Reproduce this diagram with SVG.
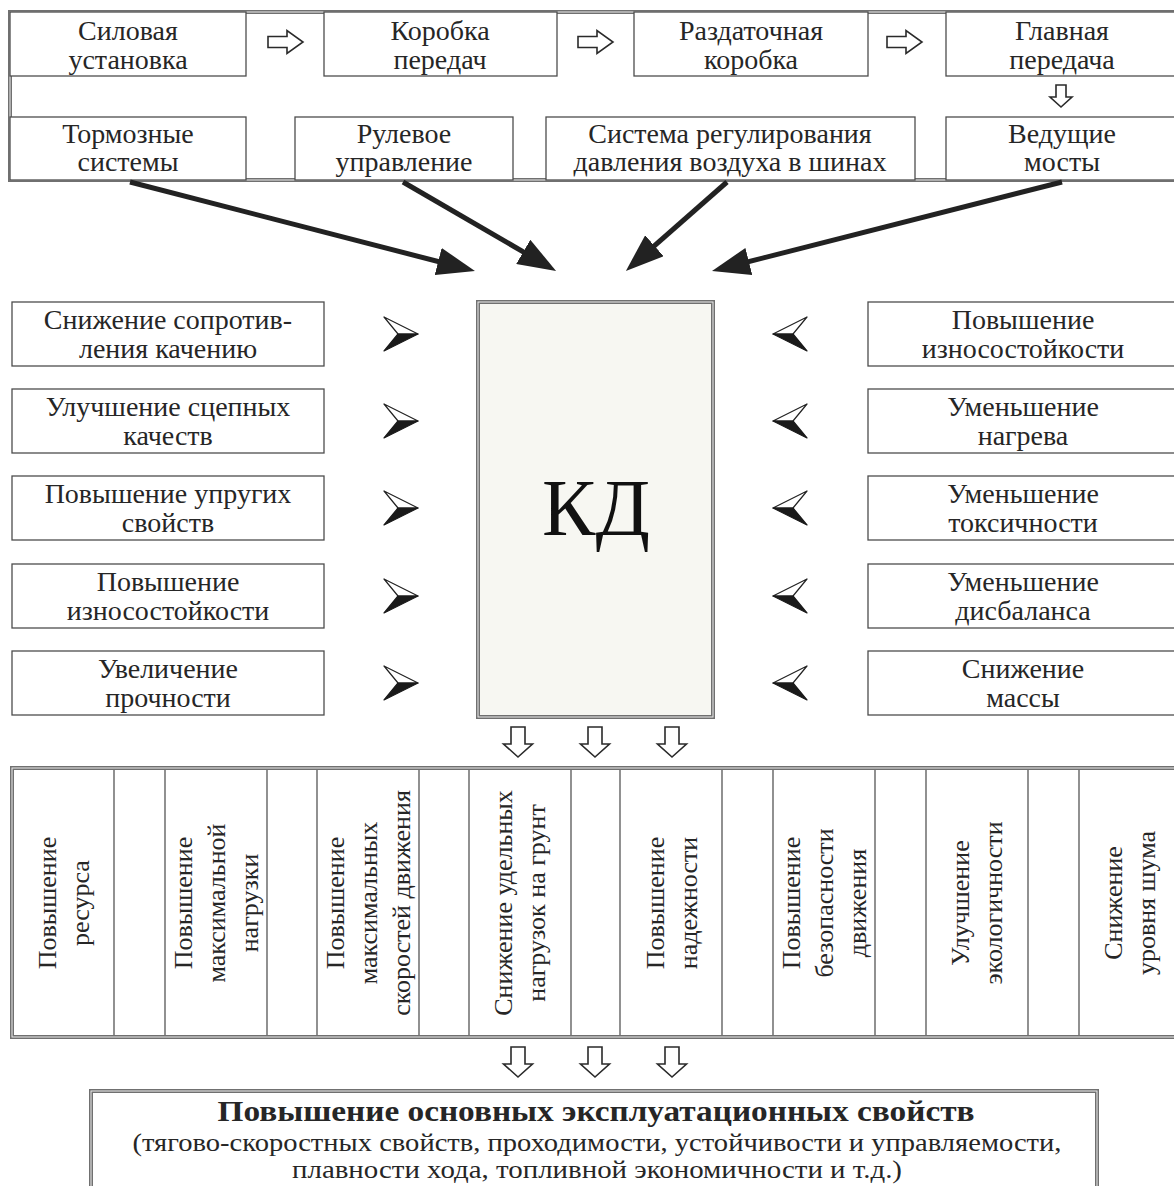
<svg xmlns="http://www.w3.org/2000/svg" width="1174" height="1186" viewBox="0 0 1174 1186">
<defs>
<style>
.t{font-family:"Liberation Serif","DejaVu Serif",serif;font-size:28px;fill:#262626;text-anchor:middle}
.v{font-size:26px}
.b{font-weight:bold}
.box{fill:#fff;stroke:#4d4d4d;stroke-width:1.3}
.fr{fill:none;stroke:#707070;stroke-width:4}
.fr2{fill:none;stroke:#ececec;stroke-width:1}
.big{stroke:#222;stroke-width:5;fill:none;marker-end:url(#head)}
.cw{fill:#fff;stroke:#222;stroke-width:1.2;stroke-linejoin:round}
.cb{fill:#1a1a1a;stroke:#1a1a1a;stroke-width:1.2;stroke-linejoin:round}
.col{stroke:#555;stroke-width:1.3}
</style>
<marker id="head" markerUnits="userSpaceOnUse" viewBox="0 0 38 28" refX="18" refY="14" markerWidth="38" markerHeight="28" orient="auto"><path d="M0,0 L38,14 L0,28 z" fill="#222"/></marker>
<path id="rarr" d="M-17,-5.5 H2 V-11.5 L18,0 L2,11.5 V5.5 H-17 Z" fill="#fff" stroke="#2a2a2a" stroke-width="1.6"/>
<path id="darr" d="M-7,0 H7 V17 H14.5 L0,30 L-14.5,17 H-7 Z" fill="#fff" stroke="#2a2a2a" stroke-width="1.6"/>
<path id="darrS" d="M-5,0 H5 V12 H11 L0,22 L-11,12 H-5 Z" fill="#fff" stroke="#2a2a2a" stroke-width="1.6"/>
<g id="chevR"><path class="cw" d="M0,0 L-34,-17 L-20,0 Z"/><path class="cb" d="M0,0 L-20,0 L-34,17 Z"/></g>
<g id="chevL"><path class="cw" d="M0,0 L34,-17 L20,0 Z"/><path class="cb" d="M0,0 L20,0 L34,17 Z"/></g>
</defs>
<rect width="1174" height="1186" fill="#fff"/>

<!-- top frame -->
<g id="top-frame">
<rect class="fr" x="10" y="12" width="1180" height="168"/>
<rect class="fr2" x="10" y="12" width="1180" height="168"/>
</g>

<g id="n-silovaya"><rect class="box" x="10" y="12" width="236" height="64"/><text class="t" x="128" y="40">Силовая</text><text class="t" x="128" y="69">установка</text></g>
<g id="n-korobka"><rect class="box" x="324" y="12" width="233" height="64"/><text class="t" x="440" y="40">Коробка</text><text class="t" x="440" y="69">передач</text></g>
<g id="n-razdatochnaya"><rect class="box" x="634" y="12" width="234" height="64"/><text class="t" x="751" y="40">Раздаточная</text><text class="t" x="751" y="69">коробка</text></g>
<g id="n-glavnaya"><rect class="box" x="946" y="12" width="240" height="64"/><text class="t" x="1062" y="40">Главная</text><text class="t" x="1062" y="69">передача</text></g>

<g id="n-tormoznye"><rect class="box" x="10" y="117" width="236" height="63"/><text class="t" x="128" y="143">Тормозные</text><text class="t" x="128" y="171">системы</text></g>
<g id="n-rulevoe"><rect class="box" x="295" y="117" width="218" height="63"/><text class="t" x="404" y="143">Рулевое</text><text class="t" x="404" y="171">управление</text></g>
<g id="n-sistema"><rect class="box" x="546" y="117" width="369" height="63"/><text class="t" x="730" y="143">Система регулирования</text><text class="t" x="730" y="171">давления воздуха в шинах</text></g>
<g id="n-vedushchie"><rect class="box" x="946" y="117" width="240" height="63"/><text class="t" x="1062" y="143">Ведущие</text><text class="t" x="1062" y="171">мосты</text></g>

<!-- KD -->
<g id="n-kd">
<rect x="478" y="302" width="235" height="415" fill="#f7f7f2" stroke="#707070" stroke-width="4"/>
<rect x="478" y="302" width="235" height="415" fill="none" stroke="#ececec" stroke-width="1"/>
<text class="t" x="596" y="535" style="font-size:80px;fill:#111">КД</text>
</g>

<!-- left boxes -->
<g id="n-l1"><rect class="box" x="12" y="302" width="312" height="64"/><text class="t" x="168" y="329">Снижение сопротив-</text><text class="t" x="168" y="358">ления качению</text></g>
<g id="n-l2"><rect class="box" x="12" y="389" width="312" height="64"/><text class="t" x="168" y="416">Улучшение сцепных</text><text class="t" x="168" y="445">качеств</text></g>
<g id="n-l3"><rect class="box" x="12" y="476" width="312" height="64"/><text class="t" x="168" y="503">Повышение упругих</text><text class="t" x="168" y="532">свойств</text></g>
<g id="n-l4"><rect class="box" x="12" y="564" width="312" height="64"/><text class="t" x="168" y="591">Повышение</text><text class="t" x="168" y="620">износостойкости</text></g>
<g id="n-l5"><rect class="box" x="12" y="651" width="312" height="64"/><text class="t" x="168" y="678">Увеличение</text><text class="t" x="168" y="707">прочности</text></g>

<!-- right boxes -->
<g id="n-r1"><rect class="box" x="868" y="302" width="318" height="64"/><text class="t" x="1023" y="329">Повышение</text><text class="t" x="1023" y="358">износостойкости</text></g>
<g id="n-r2"><rect class="box" x="868" y="389" width="318" height="64"/><text class="t" x="1023" y="416">Уменьшение</text><text class="t" x="1023" y="445">нагрева</text></g>
<g id="n-r3"><rect class="box" x="868" y="476" width="318" height="64"/><text class="t" x="1023" y="503">Уменьшение</text><text class="t" x="1023" y="532">токсичности</text></g>
<g id="n-r4"><rect class="box" x="868" y="564" width="318" height="64"/><text class="t" x="1023" y="591">Уменьшение</text><text class="t" x="1023" y="620">дисбаланса</text></g>
<g id="n-r5"><rect class="box" x="868" y="651" width="318" height="64"/><text class="t" x="1023" y="678">Снижение</text><text class="t" x="1023" y="707">массы</text></g>

<!-- table -->
<g id="n-table">
<rect x="12" y="768" width="1176" height="269" fill="#fff"/>
<g class="col">
<line x1="114" y1="768" x2="114" y2="1037"/><line x1="165" y1="768" x2="165" y2="1037"/>
<line x1="267" y1="768" x2="267" y2="1037"/><line x1="317" y1="768" x2="317" y2="1037"/>
<line x1="419" y1="768" x2="419" y2="1037"/><line x1="469" y1="768" x2="469" y2="1037"/>
<line x1="571" y1="768" x2="571" y2="1037"/><line x1="620" y1="768" x2="620" y2="1037"/>
<line x1="722" y1="768" x2="722" y2="1037"/><line x1="773" y1="768" x2="773" y2="1037"/>
<line x1="875" y1="768" x2="875" y2="1037"/><line x1="926" y1="768" x2="926" y2="1037"/>
<line x1="1028" y1="768" x2="1028" y2="1037"/><line x1="1079" y1="768" x2="1079" y2="1037"/>
</g>
<rect class="fr" x="12" y="768" width="1176" height="269"/>
<rect class="fr2" x="12" y="768" width="1176" height="269"/>
</g>

<g id="n-c1"><text class="t v" transform="translate(56,903) rotate(-90)">Повышение</text><text class="t v" transform="translate(89,903) rotate(-90)">ресурса</text></g>
<g id="n-c2"><text class="t v" transform="translate(192,903) rotate(-90)">Повышение</text><text class="t v" transform="translate(225,903) rotate(-90)">максимальной</text><text class="t v" transform="translate(258,903) rotate(-90)">нагрузки</text></g>
<g id="n-c3"><text class="t v" transform="translate(344,903) rotate(-90)">Повышение</text><text class="t v" transform="translate(377,903) rotate(-90)">максимальных</text><text class="t v" transform="translate(410,903) rotate(-90)">скоростей движения</text></g>
<g id="n-c4"><text class="t v" transform="translate(512,903) rotate(-90)">Снижение удельных</text><text class="t v" transform="translate(545,903) rotate(-90)">нагрузок на грунт</text></g>
<g id="n-c5"><text class="t v" transform="translate(664,903) rotate(-90)">Повышение</text><text class="t v" transform="translate(697,903) rotate(-90)">надежности</text></g>
<g id="n-c6"><text class="t v" transform="translate(800,903) rotate(-90)">Повышение</text><text class="t v" transform="translate(833,903) rotate(-90)">безопасности</text><text class="t v" transform="translate(866,903) rotate(-90)">движения</text></g>
<g id="n-c7"><text class="t v" transform="translate(969,903) rotate(-90)">Улучшение</text><text class="t v" transform="translate(1002,903) rotate(-90)">экологичности</text></g>
<g id="n-c8"><text class="t v" transform="translate(1122,903) rotate(-90)">Снижение</text><text class="t v" transform="translate(1155,903) rotate(-90)">уровня шума</text></g>

<!-- bottom box -->
<g id="n-result">
<rect x="91" y="1091" width="1006" height="130" fill="#fff"/>
<rect class="fr" x="91" y="1091" width="1006" height="130"/>
<rect class="fr2" x="91" y="1091" width="1006" height="130"/>
<text class="t b" x="596" y="1121" style="font-size:30px" textLength="757" lengthAdjust="spacingAndGlyphs">Повышение основных эксплуатационных свойств</text>
<text class="t" x="597" y="1151" style="font-size:26px" textLength="929" lengthAdjust="spacingAndGlyphs">(тягово-скоростных свойств, проходимости, устойчивости и управляемости,</text>
<text class="t" x="597" y="1178" style="font-size:25px" textLength="610" lengthAdjust="spacingAndGlyphs">плавности хода, топливной экономичности и т.д.)</text>
</g>

<!-- connectors -->
<g id="connectors">
<use href="#rarr" x="285" y="42"/>
<use href="#rarr" x="595" y="42"/>
<use href="#rarr" x="904" y="42"/>
<use href="#darrS" x="1061" y="85"/>
<line class="big" x1="130" y1="182" x2="455.6" y2="266"/>
<line class="big" x1="403" y1="182" x2="538.8" y2="260.9"/>
<line class="big" x1="727" y1="182" x2="640.9" y2="257.7"/>
<line class="big" x1="1062" y1="182" x2="731.4" y2="266"/>
<use href="#chevR" x="418" y="334"/>
<use href="#chevR" x="418" y="421"/>
<use href="#chevR" x="418" y="508"/>
<use href="#chevR" x="418" y="596"/>
<use href="#chevR" x="418" y="683"/>
<use href="#chevL" x="773" y="334"/>
<use href="#chevL" x="773" y="421"/>
<use href="#chevL" x="773" y="508"/>
<use href="#chevL" x="773" y="596"/>
<use href="#chevL" x="773" y="683"/>
<use href="#darr" x="518" y="727"/>
<use href="#darr" x="595" y="727"/>
<use href="#darr" x="672" y="727"/>
<use href="#darr" x="518" y="1047"/>
<use href="#darr" x="595" y="1047"/>
<use href="#darr" x="672" y="1047"/>
</g>
</svg>
